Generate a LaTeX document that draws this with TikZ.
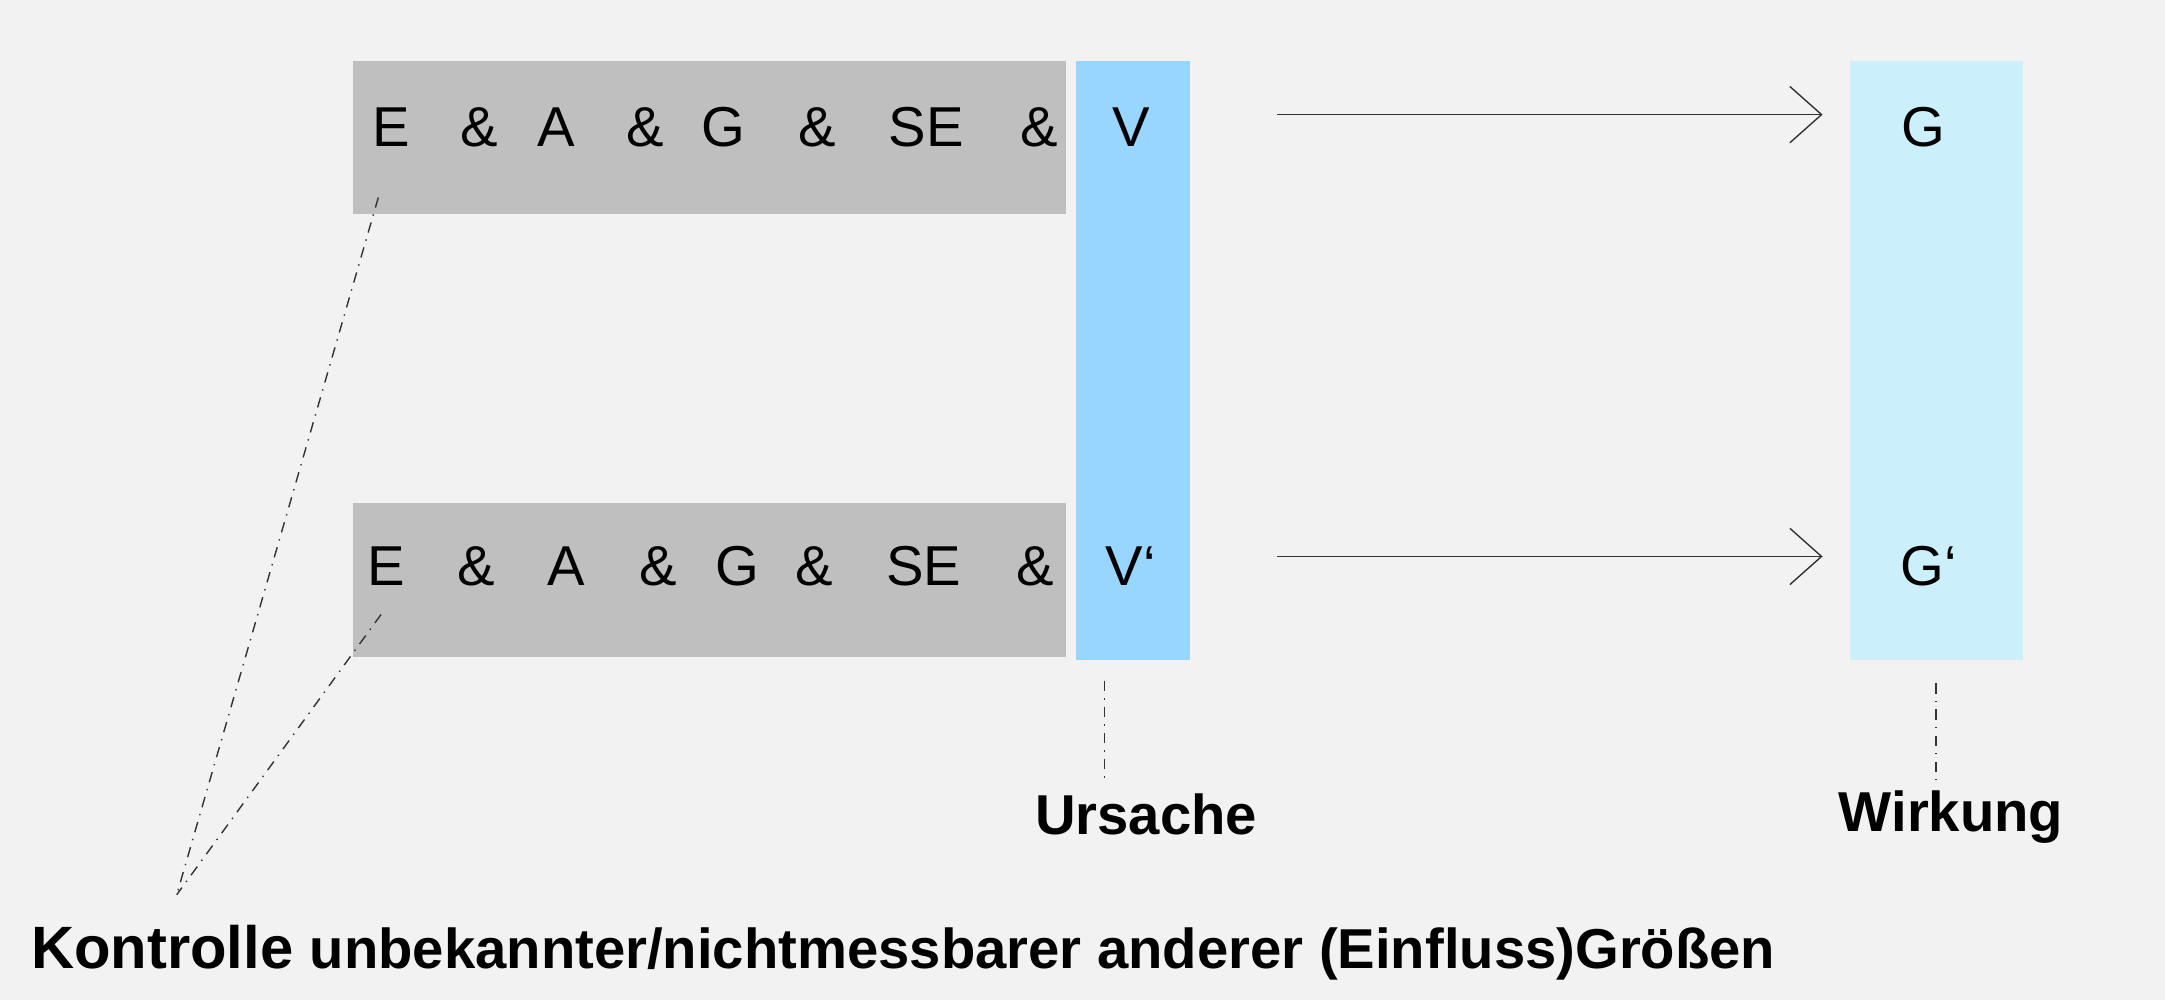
\documentclass[tikz,border=0pt]{standalone}
\usepackage{fontspec}
\setmainfont{Liberation Sans}
\usetikzlibrary{arrows.meta}
\begin{document}
\begin{tikzpicture}[x=0.013807cm,y=-0.013807cm,
  t/.style={font=\fontsize{16}{18}\selectfont,inner sep=0},
  lab/.style={font=\bfseries\fontsize{16}{18}\selectfont,inner sep=0},
  dd/.style={dash dot,thin,black!80},
  arr/.style={-{Straight Barb[length=9pt,width=16pt]},thin,black!80}]
\fill[black!5] (0,0) rectangle (1568,724);
\useasboundingbox (0,0) rectangle (1568,724);
\fill[black!25] (256,44) rectangle (772,155);
\fill[black!25] (256,364) rectangle (772,476);
\fill[blue!40!cyan!40] (779,44) rectangle (862,478);
\fill[cyan!20] (1340,44) rectangle (1465,478);
\foreach \x/\s in {283/E,347/\&,403/A,467/\&,524/G,592/\&,671/SE,753/\&,819/V}
  \node[t] at (\x,92) {\s};
\foreach \x/\s in {280/E,345/\&,410/A,477/\&,534/G,590/\&,669/SE,750/\&,819/V‘}
  \node[t] at (\x,410) {\s};
\node[t] (g) at (1393,92) {G};
\node[t] (g2) at (1397,410) {G‘};
\coordinate (a1) at (925,83); \coordinate (b1) at (1320,83);
\coordinate (a2) at (925,403); \coordinate (b2) at (1320,403);
\draw[arr] (a1) -- (b1);
\draw[arr] (a2) -- (b2);
\coordinate (k) at (128,648);
\coordinate (e1) at (274,143); \coordinate (e2) at (276,445);
\draw[dd] (e1) -- (k);
\draw[dd] (e2) -- (k);
\node[lab] (u) at (830,590) {Ursache};
\node[lab] (w) at (1413,592) {Wirkung};
\coordinate (u1) at (800,493); \coordinate (u2) at (800,565);
\coordinate (w1) at (1402,495); \coordinate (w2) at (1402,570);
\draw[dd] (u1) -- (u2);
\draw[dd] (w1) -- (w2);
\node[inner sep=0,anchor=west] (kt) at (22,690) {\bfseries\fontsize{17}{18}\selectfont Kontrolle \fontsize{16}{16}\selectfont unbekannter/nichtmessbarer anderer (Einfluss)Größen};
\end{tikzpicture}
\end{document}
